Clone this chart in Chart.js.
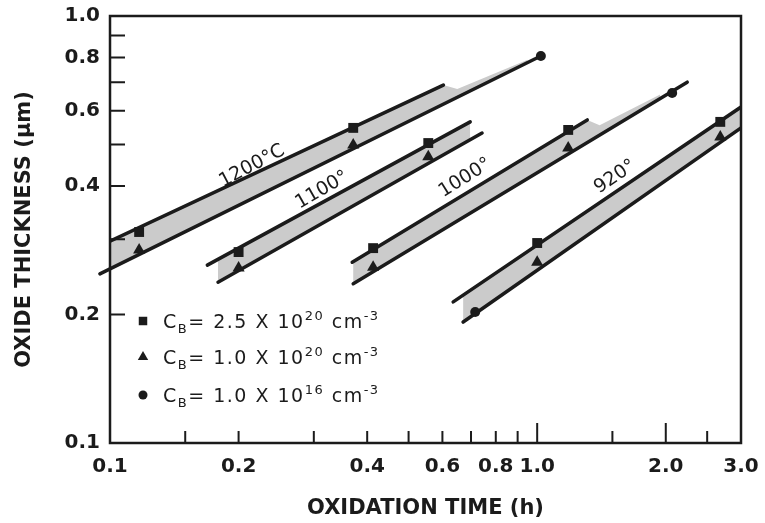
<!DOCTYPE html>
<html>
<head>
<meta charset="utf-8">
<script src="https://cdn.jsdelivr.net/npm/chart.js@4/dist/chart.umd.min.js"></script>
<style>
html, body { margin: 0; padding: 0; background: #fff; }
#wrap { width: 765px; height: 523px; }
</style>
</head>
<body>
<div id="wrap"><canvas id="oxideChart"></canvas></div>
<script>
// temperature bands
var bandNames = ["1200°C", "1100°", "1000°", "920°"];

// upper / lower fitted lines of each band (time in h, thickness in um)
var upperTime  = [[0.1, 0.603], [0.169, 0.697], [0.369, 1.31], [0.636, 3.0]];
var upperThick = [[0.297, 0.689], [0.261, 0.565], [0.265, 0.571], [0.214, 0.612]];
var lowerTime  = [[0.0947, 1.02], [0.179, 0.743], [0.371, 2.245], [0.671, 3.0]];
var lowerThick = [[0.249, 0.806], [0.238, 0.532], [0.236, 0.700], [0.192, 0.547]];

// top edge of the grey shading (shading runs down to the lower line)
var shadeTime  = [[0.1, 0.603, 0.65, 0.95], [0.169, 0.697], [0.369, 1.31, 1.4, 1.94], [0.636, 3.0]];
var shadeThick = [[0.297, 0.689, 0.675, 0.79], [0.261, 0.565], [0.265, 0.571, 0.555, 0.655], [0.214, 0.612]];

// measured points
var squareTime    = [0.117, 0.371, 0.2, 0.556, 0.413, 1.182, 1.0, 2.683];
var squareThick   = [0.312, 0.547, 0.280, 0.504, 0.286, 0.541, 0.294, 0.565];
var triangleTime  = [0.117, 0.371, 0.2, 0.556, 0.413, 1.182, 1.0, 2.683];
var triangleThick = [0.283, 0.499, 0.257, 0.468, 0.258, 0.491, 0.265, 0.521];
var circleTime    = [1.02, 2.07, 0.716];
var circleThick   = [0.806, 0.660, 0.2026];

// band label anchors
var labelTime  = [0.215, 0.3136, 0.678, 1.523];
var labelThick = [0.445, 0.391, 0.4175, 0.4198];
var labelAngle = [-28, -30, -32, -34];

// legend
var legendMantissa = ["2.5", "1.0", "1.0"];
var legendExponent = ["20", "20", "16"];
var legendStyle = ["rect", "triangle", "circle"];

// axes
var xLabelValues = [0.1, 0.2, 0.4, 0.6, 0.8, 1.0, 2.0, 3.0];
var yLabelValues = [0.1, 0.2, 0.4, 0.6, 0.8, 1.0];
var xTickMarks = [0.15, 0.2, 0.3, 0.4, 0.5, 0.6, 0.7, 0.8, 0.9, 1.0, 1.5, 2.0, 2.5];
var xLongTicks = [1.0, 2.0];
var yTickMarks = [0.2, 0.3, 0.4, 0.5, 0.6, 0.7, 0.8, 0.9];

var ink = "#1b1b1b";
var shade = "#cbcbcb";

function pairs(xs, ys) {
  return xs.map(function (x, i) { return { x: x, y: ys[i] }; });
}

var datasets = [];
bandNames.forEach(function (name, i) {
  var lowerIndex = datasets.length + 2;
  datasets.push({
    label: name + " shade", data: pairs(shadeTime[i], shadeThick[i]),
    borderWidth: 0, borderColor: "rgba(0,0,0,0)", pointRadius: 0,
    backgroundColor: shade, fill: lowerIndex, order: 3
  });
  datasets.push({
    label: name + " upper", data: pairs(upperTime[i], upperThick[i]),
    borderWidth: 3.5, borderColor: ink, pointRadius: 0, fill: false,
    borderCapStyle: "round", order: 2
  });
  datasets.push({
    label: name + " lower", data: pairs(lowerTime[i], lowerThick[i]),
    borderWidth: 3.5, borderColor: ink, pointRadius: 0, fill: false,
    borderCapStyle: "round", order: 2, clip: i === 0 ? false : undefined
  });
});
datasets.push({
  label: "CB = 2.5e20", data: pairs(squareTime, squareThick), showLine: false,
  pointStyle: "rect", pointRadius: 7, backgroundColor: ink, borderWidth: 0, order: 1
});
datasets.push({
  label: "CB = 1.0e20", data: pairs(triangleTime, triangleThick), showLine: false,
  pointStyle: "triangle", pointRadius: 7, backgroundColor: ink, borderWidth: 0, order: 1
});
datasets.push({
  label: "CB = 1.0e16", data: pairs(circleTime, circleThick), showLine: false,
  pointStyle: "circle", pointRadius: 5, backgroundColor: ink, borderWidth: 0, order: 1
});

var frameAndLabels = {
  id: "frameAndLabels",
  afterDatasetsDraw: function (chart) {
    var ctx = chart.ctx, a = chart.chartArea;
    var xs = chart.scales.x, ys = chart.scales.y;
    ctx.save();
    ctx.strokeStyle = ink;
    ctx.lineWidth = 2.5;
    ctx.strokeRect(a.left, a.top, a.right - a.left, a.bottom - a.top);

    // inward tick marks
    ctx.lineWidth = 2;
    ctx.beginPath();
    yTickMarks.forEach(function (v) {
      var y = ys.getPixelForValue(v);
      ctx.moveTo(a.left, y); ctx.lineTo(a.left + 15, y);
    });
    xTickMarks.forEach(function (v) {
      var x = xs.getPixelForValue(v);
      var len = xLongTicks.indexOf(v) >= 0 ? 20 : 12;
      ctx.moveTo(x, a.bottom); ctx.lineTo(x, a.bottom - len);
    });
    ctx.stroke();

    // band labels
    ctx.fillStyle = ink;
    ctx.font = "19px 'DejaVu Sans'";
    ctx.textAlign = "center";
    ctx.textBaseline = "middle";
    bandNames.forEach(function (name, i) {
      ctx.save();
      ctx.translate(xs.getPixelForValue(labelTime[i]), ys.getPixelForValue(labelThick[i]));
      ctx.rotate(labelAngle[i] * Math.PI / 180);
      ctx.fillText(name, 0, 0);
      ctx.restore();
    });

    // legend
    ctx.textAlign = "left";
    ctx.textBaseline = "alphabetic";
    ctx.letterSpacing = "1.5px";
    var rowY = [321, 357, 395];
    legendMantissa.forEach(function (m, i) {
      var y = rowY[i];
      Chart.helpers.drawPoint(ctx, {
        pointStyle: legendStyle[i], radius: legendStyle[i] === "circle" ? 4.5 : 6,
        rotation: 0, borderWidth: 0
      }, 143, y);
      var parts = [
        ["C", 19, 7],
        ["B", 13, 12],
        ["= " + m + " X 10", 19, 7],
        [legendExponent[i], 13, -1],
        [" cm", 19, 7],
        ["-3", 13, -1]
      ];
      var x = 163;
      parts.forEach(function (p) {
        ctx.font = p[1] + "px 'DejaVu Sans'";
        ctx.fillText(p[0], x, y + p[2]);
        x += ctx.measureText(p[0]).width;
      });
    });
    ctx.restore();
  }
};

var tickFont = { family: "'DejaVu Sans'", size: 20, weight: "bold" };
var titleFont = { family: "'DejaVu Sans'", size: 21, weight: "bold" };

new Chart(document.getElementById("oxideChart"), {
  type: "line",
  data: { datasets: datasets },
  options: {
    responsive: true,
    maintainAspectRatio: false,
    animation: false,
    layout: { padding: { left: 0, top: 16, right: 24, bottom: 0 } },
    plugins: { legend: { display: false }, tooltip: { enabled: false } },
    elements: { line: { tension: 0 } },
    scales: {
      x: {
        type: "logarithmic", min: 0.1, max: 3.0,
        afterBuildTicks: function (s) { s.ticks = xLabelValues.map(function (v) { return { value: v }; }); },
        afterFit: function (s) { s.height = 80; s.paddingLeft = 0; s.paddingRight = 0; },
        grid: { display: false, drawTicks: false },
        border: { display: false },
        ticks: {
          autoSkip: false, maxRotation: 0, padding: 12, color: ink, font: tickFont,
          callback: function (v) { return Number(v).toFixed(1); }
        },
        title: { display: true, text: "OXIDATION TIME (h)", color: ink, font: titleFont, padding: { top: 0, bottom: 2 } }
      },
      y: {
        type: "logarithmic", min: 0.1, max: 1.0,
        afterBuildTicks: function (s) { s.ticks = yLabelValues.map(function (v) { return { value: v }; }); },
        afterFit: function (s) { s.width = 110; s.paddingTop = 0; s.paddingBottom = 0; },
        grid: { display: false, drawTicks: false },
        border: { display: false },
        ticks: {
          autoSkip: false, padding: 10, color: ink, font: tickFont,
          callback: function (v) { return Number(v).toFixed(1); }
        },
        title: { display: true, text: "OXIDE THICKNESS (μm)", color: ink, font: titleFont, padding: { top: 12, bottom: 0 } }
      }
    }
  },
  plugins: [frameAndLabels]
});
</script>
</body>
</html>
